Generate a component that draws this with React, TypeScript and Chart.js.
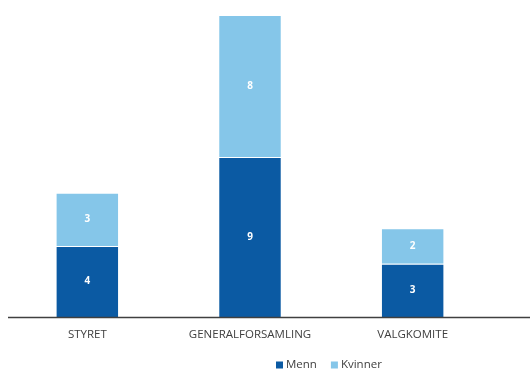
import React, { useEffect, useRef } from "react";
import { Chart, registerables } from "chart.js";

Chart.register(...registerables);

const categories = ["STYRET", "GENERALFORSAMLING", "VALGKOMITE"];
const menn = [4, 9, 3];
const kvinner = [3, 8, 2];
const seriesLabels = ["Menn", "Kvinner"];
const colors = ["#0B5AA3", "#85C6E9"];

const FONT = "'Open Sans', sans-serif";

// Value labels centred in each segment, long baseline and a custom legend.
const decorPlugin = {
  id: "decor",
  afterDatasetsDraw(chart: any) {
    const ctx = chart.ctx;
    ctx.save();
    ctx.fillStyle = "#ffffff";
    ctx.font = `bold 10px ${FONT}`;
    ctx.textAlign = "center";
    ctx.textBaseline = "middle";
    chart.data.datasets.forEach((ds: any, di: number) => {
      const meta = chart.getDatasetMeta(di);
      meta.data.forEach((bar: any, i: number) => {
        const { x, y, base } = bar.getProps(["x", "y", "base"], true);
        ctx.fillText(String(ds.data[i]), x, (y + base) / 2);
      });
    });
    ctx.restore();
  },
  afterDraw(chart: any) {
    const ctx = chart.ctx;
    const yAxis = chart.scales.y.getPixelForValue(0);
    ctx.save();
    ctx.strokeStyle = "#404040";
    ctx.lineWidth = 1.5;
    ctx.beginPath();
    ctx.moveTo(8, yAxis + 0.5);
    ctx.lineTo(chart.width, yAxis + 0.5);
    ctx.stroke();

    // legend
    ctx.font = `11.5px ${FONT}`;
    ctx.textBaseline = "middle";
    ctx.textAlign = "left";
    const ly = 365;
    let lx = 276;
    chart.data.datasets.forEach((ds: any) => {
      ctx.fillStyle = ds.backgroundColor;
      ctx.fillRect(lx, ly - 3.5, 7, 7);
      ctx.fillStyle = "#404040";
      ctx.fillText(ds.label, lx + 10, ly);
      lx += 10 + ctx.measureText(ds.label).width + 14;
    });
    ctx.restore();
  },
};

export default function App() {
  const ref = useRef<HTMLCanvasElement | null>(null);
  useEffect(() => {
    if (!ref.current) return;
    const chart = new Chart(ref.current, {
      type: "bar",
      data: {
        labels: categories,
        datasets: [
          {
            label: seriesLabels[0],
            data: menn,
            backgroundColor: colors[0],
            borderColor: "rgba(255,255,255,0.7)",
            borderWidth: 1,
            barPercentage: 0.78,
            categoryPercentage: 0.5,
          },
          {
            label: seriesLabels[1],
            data: kvinner,
            backgroundColor: colors[1],
            borderColor: "rgba(255,255,255,0.7)",
            borderWidth: 1,
            barPercentage: 0.78,
            categoryPercentage: 0.5,
          },
        ],
      },
      options: {
        responsive: false,
        animation: false,
        layout: { padding: { left: 6, right: 36, top: 15, bottom: 0 } },
        plugins: {
          legend: { display: false },
          tooltip: { enabled: false },
        },
        scales: {
          x: {
            stacked: true,
            grid: { display: false, drawTicks: false },
            border: { display: false },
            ticks: {
              color: "#404040",
              font: { family: FONT, size: 11.5 },
              padding: 11,
              maxRotation: 0,
              autoSkip: false,
            },
            afterFit(scale: any) {
              scale.height = 54;
            },
          },
          y: {
            stacked: true,
            display: false,
            min: 0,
            max: 17,
          },
        },
      },
      plugins: [decorPlugin],
    });
    return () => chart.destroy();
  }, []);
  return (
    <canvas
      ref={ref}
      width={530}
      height={371}
      style={{ position: "fixed", left: 0, top: 0, width: 530, height: 371 }}
    />
  );
}
